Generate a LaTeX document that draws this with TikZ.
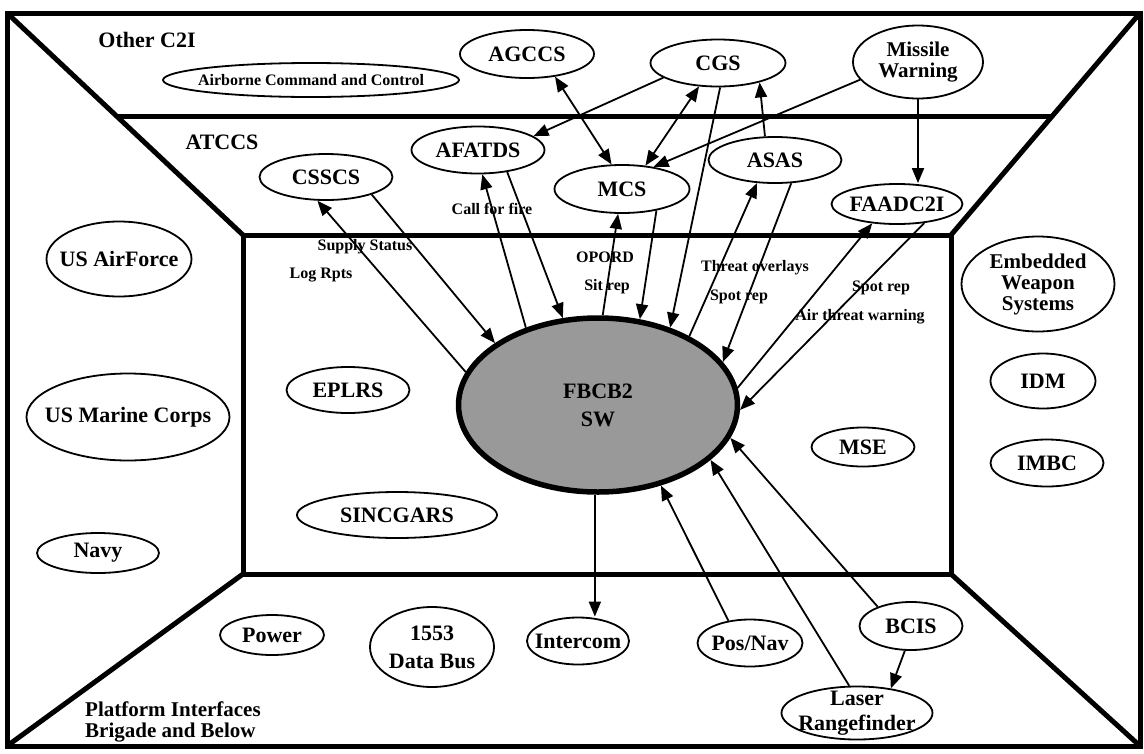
\documentclass[tikz,border=0pt]{standalone}
\usepackage{fontspec}
\setmainfont{Liberation Serif}
\usepackage{tikz}
\usetikzlibrary{shapes.geometric}
\usetikzlibrary{arrows.meta}

\tikzset{
  panel/.style={line width=5pt},
  oval/.style={ellipse,draw,line width=1.8pt,inner xsep=-60pt,inner ysep=-6pt,
    align=center,font=\bfseries\fontsize{22}{19}\selectfont},
  tag/.style={font=\bfseries\fontsize{16}{16}\selectfont,inner sep=0pt},
  head/.style={font=\bfseries\fontsize{22}{22}\selectfont,align=left,inner sep=0pt},
  flow/.style={line width=1.8pt,-{Triangle[length=15pt,width=12pt]}},
  both/.style={line width=1.8pt,{Triangle[length=15pt,width=12pt]}-{Triangle[length=15pt,width=12pt]}},
}

\begin{document}
\begin{tikzpicture}[x=1pt,y=-1pt]
\useasboundingbox (0,0) rectangle (1144,753);

% frame of the room
\draw[panel] (7,13) rectangle (1140,746);
\draw[panel] (243,235) rectangle (951,574);
\draw[panel] (7,13) -- (243,235);
\draw[panel] (1140,13) -- (951,235);
\draw[panel] (7,746) -- (243,574);
\draw[panel] (1140,746) -- (951,574);
\draw[panel] (116,116) -- (1052,116);

% area titles
\node[head] (c2i) at (147,40) {Other C2I};
\node[head] (atccs) at (222,142) {ATCCS};
\node[head,anchor=west,font=\bfseries\fontsize{21}{21}\selectfont] (platform) at (85,722) {Platform Interfaces\\Brigade and Below};

% other C2I
\node[oval,minimum width=296pt,minimum height=34pt,font=\bfseries\fontsize{16}{16}\selectfont] (airborne) at (311,80) {Airborne Command and Control};
\node[oval,minimum width=134pt,minimum height=48pt] (agccs) at (527,54) {AGCCS};
\node[oval,minimum width=135pt,minimum height=47pt] (cgs) at (718,63) {CGS};
\node[oval,minimum width=130pt,minimum height=73pt,font=\bfseries\fontsize{21}{21}\selectfont] (missile) at (918,62) {Missile\\Warning};

% ATCCS
\node[oval,minimum width=133pt,minimum height=46pt] (csscs) at (326,177) {CSSCS};
\node[oval,minimum width=133pt,minimum height=47pt] (afatds) at (478,150) {AFATDS};
\node[oval,minimum width=135pt,minimum height=48pt] (mcs) at (622,189) {MCS};
\node[oval,minimum width=133pt,minimum height=46pt] (asas) at (775,160) {ASAS};
\node[oval,minimum width=131pt,minimum height=40pt] (faadc) at (897,204) {FAADC2I};

% left and right sides
\node[oval,minimum width=145pt,minimum height=75pt] (usaf) at (119,259) {US AirForce};
\node[oval,minimum width=203pt,minimum height=87pt] (usmc) at (128,417) {US Marine Corps};
\node[oval,minimum width=122pt,minimum height=40pt] (navy) at (98,553) {Navy};
\node[oval,minimum width=153pt,minimum height=95pt,font=\bfseries\fontsize{21}{21}\selectfont] (embedded) at (1038,284) {Embedded\\Weapon\\Systems};
\node[oval,minimum width=105pt,minimum height=55pt] (idm) at (1043,381) {IDM};
\node[oval,minimum width=113pt,minimum height=47pt] (imbc) at (1047,463) {IMBC};

% centre
\node[oval,minimum width=123pt,minimum height=46pt] (eplrs) at (348,390) {EPLRS};
\node[oval,minimum width=200pt,minimum height=46pt] (sincgars) at (397,515) {SINCGARS};
\node[oval,minimum width=103pt,minimum height=39pt] (mse) at (863,447) {MSE};
\node[oval,line width=5.5pt,fill=black!40,minimum width=279pt,minimum height=174pt,font=\bfseries\fontsize{22}{28}\selectfont] (fbcb2) at (598,405) {FBCB2\\SW};

% platform interfaces
\node[oval,minimum width=104pt,minimum height=40pt] (power) at (272,635) {Power};
\node[oval,minimum width=124pt,minimum height=80pt,font=\bfseries\fontsize{22}{28}\selectfont] (databus) at (432,647) {1553\\Data Bus};
\node[oval,minimum width=102pt,minimum height=47pt] (intercom) at (578,641) {Intercom};
\node[oval,minimum width=105pt,minimum height=47pt] (posnav) at (750,643) {Pos/Nav};
\node[oval,minimum width=103pt,minimum height=48pt] (bcis) at (911,626) {BCIS};
\node[oval,minimum width=151pt,minimum height=53pt,font=\bfseries\fontsize{22}{25}\selectfont] (laser) at (857,713) {Laser\\Rangefinder};

% message labels
\node[tag] (supply) at (365,247) {Supply Status};
\node[tag] (logrpts) at (321,275) {Log Rpts};
\node[tag] (callfire) at (492,209) {Call for fire};
\node[tag] (opord) at (605,257) {OPORD};
\node[tag] (sitrep) at (607,287) {Sit rep};
\node[tag] (threat) at (755,268) {Threat overlays};
\node[tag] (spotrep) at (739,297) {Spot rep};
\node[tag] (spotrepb) at (881,288) {Spot rep};
\node[tag] (airthreat) at (860,317) {Air threat warning};

% C2I links
\draw[both] (agccs.-39) -- (mcs.113);
\draw[flow] (cgs.195) -- (afatds.14);
\draw[both] (cgs.231) -- (mcs.45);
\draw[flow] (missile.197) -- (mcs.35);
\draw[flow] (asas.113) -- (cgs.-25);
\draw[flow] (missile.south) -- (missile.south |- faadc.north);

% links to FBCB2
\draw[flow] (csscs.-21) -- (fbcb2.149);
\draw[flow] (fbcb2.166) -- (csscs.250);
\draw[flow] (fbcb2.133) -- (afatds.280);
\draw[flow] (afatds.-37) -- (fbcb2.112);
\draw[flow] (fbcb2.87) -- (mcs.261);
\draw[flow] (mcs.-32) -- (fbcb2.64);
\draw[flow] (cgs.-85) -- (fbcb2.47);
\draw[flow] (fbcb2.37) -- (asas.232);
\draw[flow] (asas.-55) -- (fbcb2.19);
\draw[flow] (fbcb2.7) -- (faadc.218);
\draw[flow] (faadc.-35) -- (fbcb2.-2);
\draw[flow] (fbcb2.-92) -- (fbcb2.-92 |- intercom.north);
\draw[flow] (posnav.134) -- (fbcb2.-52);
\draw[flow] (laser.106) -- (fbcb2.-26);
\draw[flow] (bcis.150) -- (fbcb2.-14);
\draw[flow] (bcis.-104) -- (laser.36);

\end{tikzpicture}
\end{document}
